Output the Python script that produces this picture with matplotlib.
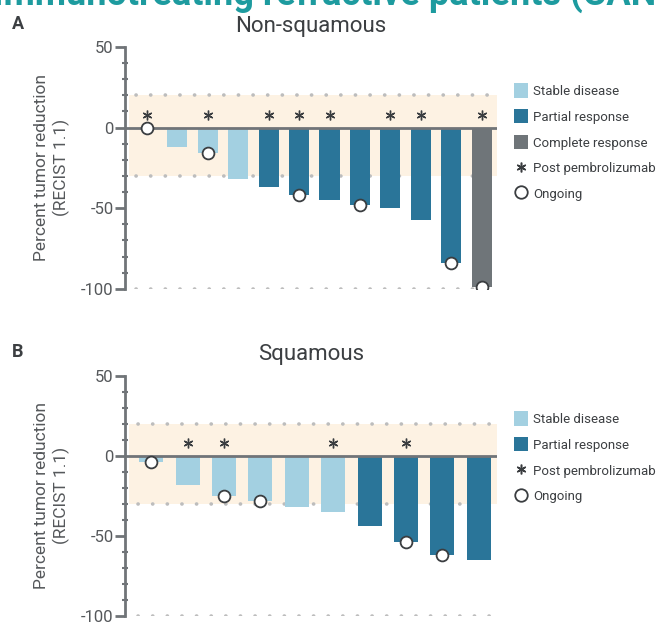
import matplotlib
matplotlib.use("Agg")
import matplotlib.pyplot as plt
from matplotlib.patches import Patch
from matplotlib.lines import Line2D

plt.rcParams['font.family'] = ['Roboto', 'DejaVu Sans']

# ---- data ----
nsq_values = [0, -12, -16, -32, -37, -42, -45, -48, -50, -57, -84, -99]
nsq_resp = ['SD', 'SD', 'SD', 'SD', 'PR', 'PR', 'PR', 'PR', 'PR', 'PR', 'PR', 'CR']
nsq_post = [1, 0, 1, 0, 1, 1, 1, 0, 1, 1, 0, 1]
nsq_ongoing = [1, 0, 1, 0, 0, 1, 0, 1, 0, 0, 1, 1]

sq_values = [-4, -18, -25, -28, -32, -35, -44, -54, -62, -65]
sq_resp = ['SD', 'SD', 'SD', 'SD', 'SD', 'SD', 'PR', 'PR', 'PR', 'PR']
sq_post = [0, 1, 1, 0, 0, 1, 0, 1, 0, 0]
sq_ongoing = [1, 0, 1, 1, 0, 0, 0, 1, 1, 0]

yticks = [50, 0, -50, -100]
band_top, band_bottom = 20, -30
asterisk_y = 8

colors = {'SD': '#a3d0e1', 'PR': '#2a7599', 'CR': '#6f7579'}
labels = {'SD': 'Stable disease', 'PR': 'Partial response', 'CR': 'Complete response'}
spine_col = '#707478'

fig = plt.figure(figsize=(6.56, 6.24), dpi=100)

def panel(rect, values, resp, post, ongoing, title, letter, letter_y, leg_cats, leg_top):
    ax = fig.add_axes(rect)
    n = len(values)
    x = list(range(n))
    xmin, xmax = -0.72, n - 0.5
    ax.set_xlim(xmin, xmax)
    ax.set_ylim(-100, 50)
    ax.axhspan(band_bottom, band_top, xmin=0.01, xmax=1, color='#fdf2e3', zorder=0, lw=0)
    for yy in (band_top, band_bottom, -100):
        ax.plot([xmin + 0.35, xmax], [yy, yy], ls=(0, (0.05, 4.0)), lw=2.6,
                color='#bdbdbd', solid_capstyle='round', dash_capstyle='round', zorder=1)
    ax.bar(x, values, width=0.66, color=[colors[r] for r in resp], zorder=2)
    ax.plot([xmin, xmax], [0, 0], color=spine_col, lw=2, zorder=3)
    px = [xi for xi, p in zip(x, post) if p]
    ax.plot(px, [asterisk_y] * len(px), ls='none', marker=(6, 2, 0), ms=7,
            mew=1.0, color='#3a3d40', zorder=4)
    ox = [xi for xi, o in zip(x, ongoing) if o]
    oy = [v for v, o in zip(values, ongoing) if o]
    ax.plot(ox, oy, ls='none', marker='o', ms=8.5, mfc='white', mec='#3a3d40',
            mew=1.3, zorder=5)
    for s in ('top', 'right', 'bottom'):
        ax.spines[s].set_visible(False)
    ax.spines['left'].set_color(spine_col)
    ax.spines['left'].set_linewidth(2)
    ax.set_xticks([])
    ax.set_yticks(yticks)
    ax.set_yticklabels([str(t) for t in yticks])
    ax.set_yticks(range(-100, 51, 10), minor=True)
    ax.tick_params(axis='y', which='major', length=7, width=2, color=spine_col,
                   labelsize=12, labelcolor='#55585b', pad=1)
    ax.tick_params(axis='y', which='minor', length=4, width=1.5, color=spine_col,
                   direction='inout')
    ax.set_ylabel('Percent tumor reduction\n(RECIST 1.1)', fontsize=12.5,
                  color='#55585b', labelpad=8, linespacing=1.3)
    ax.set_title(title, fontsize=16, color='#3c3f42', pad=11)
    fig.text(0.018, letter_y, letter, fontsize=13, fontweight='bold', color='#3c3f42',
             va='center')
    handles = [Patch(facecolor=colors[c], label=labels[c]) for c in leg_cats]
    handles.append(Line2D([], [], ls='none', marker=(6, 2, 0), ms=7, mew=1.1,
                          color='#3a3d40', label='Post pembrolizumab'))
    handles.append(Line2D([], [], ls='none', marker='o', ms=9, mfc='white',
                          mec='#3a3d40', mew=1.3, label='Ongoing'))
    leg = fig.legend(handles=handles, loc='upper left', bbox_to_anchor=(0.775, leg_top),
                     frameon=False, fontsize=9.5, handlelength=1.1, handleheight=1.3,
                     handletextpad=0.4, labelspacing=0.85, borderaxespad=0)
    for t in leg.get_texts():
        t.set_color('#3c3f42')
    return ax

panel([0.1905, 0.537, 0.567, 0.388], nsq_values, nsq_resp, nsq_post, nsq_ongoing,
      'Non-squamous', 'A', 1 - 24 / 624, ['SD', 'PR', 'CR'], 1 - 78 / 624)
panel([0.1905, 0.013, 0.567, 0.385], sq_values, sq_resp, sq_post, sq_ongoing,
      'Squamous', 'B', 1 - 352 / 624, ['SD', 'PR'], 1 - 406 / 624)

fig.text(-0.01, 1 - 5 / 624, 'Immunotreating refractive patients (CANFO',
         fontsize=26, fontweight='bold', color='#1d9b9f', va='baseline', ha='left')

fig.savefig('out.png', dpi=100)
